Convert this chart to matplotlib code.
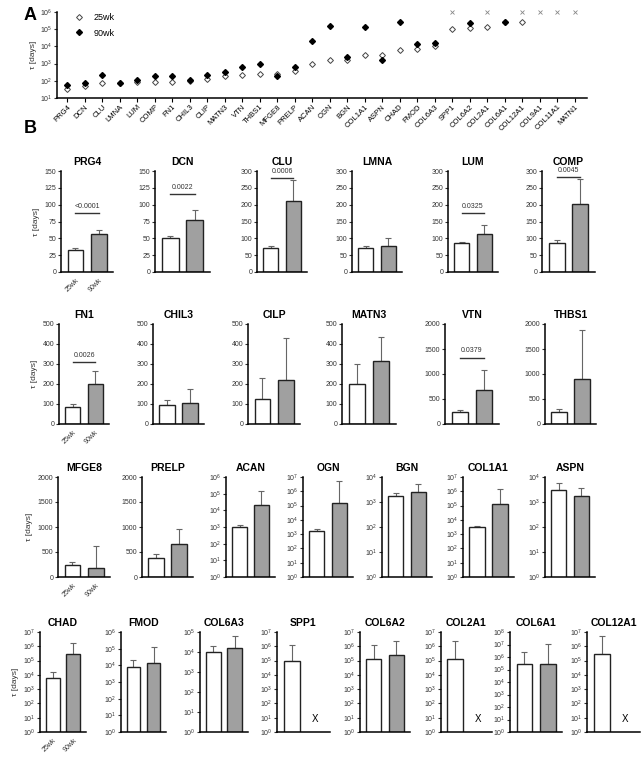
import numpy as np
import matplotlib
matplotlib.use("Agg")
import matplotlib.pyplot as plt
from matplotlib.ticker import LogLocator, NullLocator, MultipleLocator

plt.rcParams['font.family'] = ['Liberation Sans', 'DejaVu Sans']

nan = np.nan

# panel A labels (all 30 proteins)
labels_a = ['PRG4', 'DCN', 'CLU', 'LMNA', 'LUM', 'COMP', 'FN1', 'CHIL3', 'CLIP', 'MATN3',
            'VTN', 'THBS1', 'MFGE8', 'PRELP', 'ACAN', 'OGN', 'BGN', 'COL1A1', 'ASPN', 'CHAD',
            'FMOD', 'COL6A3', 'SPP1', 'COL6A2', 'COL2A1', 'COL6A1', 'COL12A1', 'COL9A1',
            'COL11A1', 'MATN1']

# mean tau [days]
tau_25 = [33, 50, 70, 70, 85, 87, 87, 97, 127, 200,
          230, 240, 240, 380, 1000, 1550, 1700, 3000, 3000, 6000,
          7500, 10000, 100000, 120000, 130000, 270000, 270000, nan, nan, nan]
tau_90 = [56, 77, 210, 78, 113, 203, 200, 107, 220, 315,
          670, 900, 190, 660, 22000, 150000, 2500, 130000, 1700, 280000,
          14000, 16000, nan, 230000, nan, 270000, nan, nan, nan, nan]

# panel B (first 27 proteins)
titles_b = ['PRG4', 'DCN', 'CLU', 'LMNA', 'LUM', 'COMP', 'FN1', 'CHIL3', 'CILP', 'MATN3',
            'VTN', 'THBS1', 'MFGE8', 'PRELP', 'ACAN', 'OGN', 'BGN', 'COL1A1', 'ASPN', 'CHAD',
            'FMOD', 'COL6A3', 'SPP1', 'COL6A2', 'COL2A1', 'COL6A1', 'COL12A1']
# upper end of the error bars
top_25 = [36, 53, 78, 78, 90, 95, 98, 122, 228, 298,
          270, 300, 310, 460, 1400, 2400, 2300, 4000, 5500, 17000,
          22000, 21000, 1.2e6, 1.3e6, 2.4e6, 2.5e6, 5e6]
top_90 = [62, 92, 272, 100, 140, 275, 265, 177, 428, 437,
          1080, 1890, 630, 970, 140000, 5.5e6, 5200, 1.5e6, 3500, 1.8e6,
          120000, 60000, nan, 2.2e6, nan, 1.1e7, nan]
ymax_b = [150, 150, 300, 300, 300, 300, 500, 500, 500, 500,
          2000, 2000, 2000, 2000, 1e6, 1e7, 1e4, 1e7, 1e4, 1e7,
          1e6, 1e5, 1e7, 1e7, 1e7, 1e8, 1e7]
pvals = {0: ('<0.0001', 87), 1: ('0.0022', 116), 2: ('0.0006', 280), 4: ('0.0325', 175),
         5: ('0.0045', 282), 6: ('0.0026', 311), 10: ('0.0379', 1330)}

W, H = 642, 760
fig = plt.figure(figsize=(W / 100, H / 100), dpi=100)


def px_axes(x0, x1, ytop, ybot):
    return fig.add_axes([x0 / W, 1 - ybot / H, (x1 - x0) / W, (ybot - ytop) / H])


def style(ax):
    for s in ['top', 'right']:
        ax.spines[s].set_visible(False)
    for s in ['left', 'bottom']:
        ax.spines[s].set_linewidth(1.1)
    ax.tick_params(axis='y', length=2.5, width=0.8, pad=1, labelsize=5, colors='#333333')
    ax.tick_params(axis='x', length=0)


# ---------- panel A ----------
axA = px_axes(57, 587, 12, 98)
style(axA)
x = np.arange(len(labels_a))
axA.plot(x, tau_25, 'D', mfc='white', mec='#444444', ms=3, mew=0.7, ls='none', label='25wk')
axA.plot(x, tau_90, 'D', mfc='black', mec='black', ms=3, ls='none', label='90wk')
miss = [i for i in range(len(labels_a)) if np.isnan(tau_90[i])]
axA.plot(miss, [1e6] * len(miss), 'x', color='#888888', ms=2.5, mew=0.6, clip_on=False)
axA.set_yscale('log')
axA.set_ylim(10, 1e6)
axA.yaxis.set_major_locator(LogLocator(base=10, numticks=10))
axA.yaxis.set_minor_locator(NullLocator())
axA.set_xlim(-0.6, len(labels_a) - 0.3)
axA.set_xticks(x)
axA.set_xticklabels(labels_a, rotation=45, ha='right', rotation_mode='anchor', fontsize=5.5)
axA.tick_params(axis='x', length=3, width=0.8, pad=1)
axA.set_ylabel('τ [days]', fontsize=6, labelpad=2, color='#333333')
axA.legend(loc='upper left', bbox_to_anchor=(0.01, 1.08), frameon=False, fontsize=6.5,
           handletextpad=0.6, labelspacing=0.7, markerscale=1.0)
fig.text(24 / W, 1 - 20 / H, 'A', fontsize=13, fontweight='bold')
fig.text(24 / W, 1 - 133 / H, 'B', fontsize=13, fontweight='bold')

# ---------- panel B ----------
rows = [
    (171, 272, [61, 155, 257, 352, 448, 542], [113, 210, 307, 402, 498, 595]),
    (324, 424, [59, 153, 248, 342, 445, 545], [109, 204, 300, 396, 499, 596]),
    (477, 577, [58, 142, 226, 303, 382, 463, 545], [110, 193, 275, 353, 432, 514, 595]),
    (632, 732, [40, 121, 200, 277, 360, 441, 510, 587], [86, 166, 248, 330, 410, 492, 562, 640]),
]
steps = {150: 25, 300: 50, 500: 100, 2000: 500}

k = 0
for ytop, ybot, lefts, rights in rows:
    for j, (l, r) in enumerate(zip(lefts, rights)):
        ax = px_axes(l, r, ytop, ybot)
        style(ax)
        ym = ymax_b[k]
        log = ym > 1e4 - 1 and k >= 14
        v25, v90 = tau_25[k], tau_90[k]
        ax.bar(0, v25, width=0.68, color='white', edgecolor='#222222', linewidth=1.0, zorder=2)
        ax.errorbar(0, v25, yerr=[[0], [top_25[k] - v25]], fmt='none', ecolor='#666666',
                    elinewidth=0.8, capsize=2.2, capthick=0.8, zorder=1)
        if not np.isnan(v90):
            ax.bar(1, v90, width=0.68, color='#a0a0a0', edgecolor='#222222', linewidth=1.0, zorder=2)
            ax.errorbar(1, v90, yerr=[[0], [top_90[k] - v90]], fmt='none', ecolor='#666666',
                        elinewidth=0.8, capsize=2.2, capthick=0.8, zorder=1)
        if log:
            ax.set_yscale('log')
            ax.set_ylim(1, ym)
            ax.yaxis.set_major_locator(LogLocator(base=10, numticks=12))
            ax.yaxis.set_minor_locator(NullLocator())
            if np.isnan(v90):
                ax.text(1, 10 ** (np.log10(ym) * 0.08), 'X', ha='center', va='bottom', fontsize=7)
        else:
            ax.set_ylim(0, ym)
            ax.yaxis.set_major_locator(MultipleLocator(steps[ym]))
        ax.set_xlim(-0.62, 1.62)
        ax.set_title(titles_b[k], fontsize=7.5, fontweight='bold', pad=4)
        if k in pvals:
            txt, yl = pvals[k]
            ax.plot([0, 1], [yl, yl], color='#333333', lw=1.0)
            ax.text(0.5, yl + ym * 0.03, txt, ha='center', va='bottom', fontsize=5, color='#333333')
        if j == 0:
            ax.set_xticks([0, 1])
            ax.set_xticklabels(['25wk', '90wk'], rotation=45, ha='right', rotation_mode='anchor',
                               fontsize=5, color='#333333')
            ax.set_ylabel('τ [days]', fontsize=6, labelpad=3, color='#333333')
        else:
            ax.set_xticks([])
        k += 1

fig.savefig('out.png', dpi=100)
